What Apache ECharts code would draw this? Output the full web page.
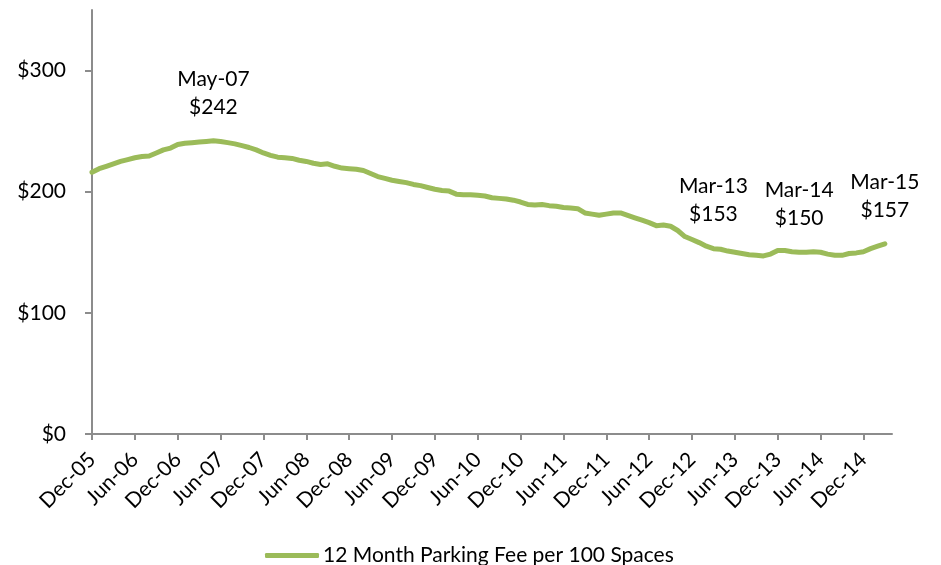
<!DOCTYPE html>
<html lang="en">
<head>
  <meta charset="UTF-8" />
  <title>12 Month Parking Fee</title>
  <script src="https://cdn.jsdelivr.net/npm/echarts@6/dist/echarts.min.js"></script>
  <style>
    html, body { margin: 0; padding: 0; background: #fff; }
    #main { width: 941px; height: 565px; }
  </style>
</head>
<body>
  <div id="main"></div>
  <script>
    // monthly fee, Dec-05 .. Mar-15
    var fee = [
      216, 219, 221, 223, 225, 226.5, 228, 229, 229.5, 232, 234.5, 236,
      239, 240, 240.5, 241, 241.5, 242, 241.5, 240.5, 239.5, 238, 236.5, 234.5,
      232, 230, 228.5, 228, 227.5, 226, 225, 223.5, 222.5, 223, 221, 219.5,
      219, 218.5, 217.5, 215, 212.5, 211, 209.5, 208.5, 207.5, 206, 205, 203.5,
      202, 201, 200.5, 198, 197.5, 197.5, 197, 196.5, 195, 194.5, 194, 193,
      191.5, 189.5, 189, 189.5, 188.5, 188, 187, 186.5, 186, 182.5, 181.5, 180.5,
      181.5, 182.5, 182.5, 180.5, 178.5, 176.5, 174.5, 172, 172.5, 171.5, 168, 163,
      160.5, 158, 155, 153, 152.5, 151, 150, 149, 148, 147.5, 147, 148.5,
      151.5, 151.5, 150.5, 150, 150, 150.5, 150, 148.5, 147.5, 147.5, 149, 149.5,
      150.5, 153, 155, 157
    ];
    // points that carry a data label
    var labelled = [17, 87, 99, 111];
    var yTicks = [0, 100, 200, 300];

    // month categories Dec-05 .. Apr-15 (axis runs one month past the last point)
    var monNames = ["Jan", "Feb", "Mar", "Apr", "May", "Jun", "Jul", "Aug", "Sep", "Oct", "Nov", "Dec"];
    var months = [];
    for (var k = 0; k < 113; k++) {
      var m = (11 + k) % 12;
      var y = 5 + Math.floor((11 + k) / 12);
      months.push(monNames[m] + "-" + (y < 10 ? "0" + y : y));
    }

    var seriesData = fee.map(function (v, i) {
      return labelled.indexOf(i) >= 0 ? { value: v, label: { show: true } } : v;
    });

    var font = "Lato, 'Noto Sans', sans-serif";
    var green = "#9BBB59";

    var myChart = echarts.init(document.getElementById("main"));
    var option = {
      animation: false,
      grid: { left: 92, right: 49, top: 10, bottom: 131, containLabel: false },
      legend: {
        data: ["12 Month Parking Fee per 100 Spaces"],
        left: 260,
        top: 540,
        icon: "roundRect",
        itemWidth: 54,
        itemHeight: 5,
        itemGap: 4,
        textStyle: { fontFamily: font, fontSize: 21, color: "#000", padding: [0, 0, 0, -1] }
      },
      xAxis: {
        type: "category",
        data: months,
        boundaryGap: false,
        axisLine: { lineStyle: { color: "#8c8c8c", width: 2 } },
        axisTick: { show: true, interval: 5, length: 6, lineStyle: { color: "#8c8c8c", width: 2 } },
        axisLabel: {
          interval: 5,
          rotate: 45,
          margin: 22,
          color: "#000",
          fontFamily: font,
          fontSize: 21
        },
        splitLine: { show: false }
      },
      yAxis: {
        type: "value",
        min: 0,
        max: 350,
        interval: 100,
        axisLine: { show: true, lineStyle: { color: "#8c8c8c", width: 2 } },
        axisTick: { show: true, length: 7, customValues: yTicks, lineStyle: { color: "#8c8c8c", width: 2 } },
        axisLabel: {
          customValues: yTicks,
          margin: 26,
          color: "#000",
          fontFamily: font,
          fontSize: 21,
          formatter: function (v) { return "$" + v; }
        },
        splitLine: { show: false }
      },
      series: [
        {
          name: "12 Month Parking Fee per 100 Spaces",
          type: "line",
          data: seriesData,
          showSymbol: true,
          showAllSymbol: true,
          symbol: "circle",
          symbolSize: 0,
          itemStyle: { color: green },
          lineStyle: { color: green, width: 5, cap: "round", join: "round" },
          label: {
            show: false,
            position: "top",
            distance: 20,
            color: "#000",
            fontFamily: font,
            fontSize: 21,
            lineHeight: 28,
            formatter: function (p) { return p.name + "\n$" + Math.round(p.value); }
          }
        }
      ]
    };
    myChart.setOption(option);
  </script>
</body>
</html>
